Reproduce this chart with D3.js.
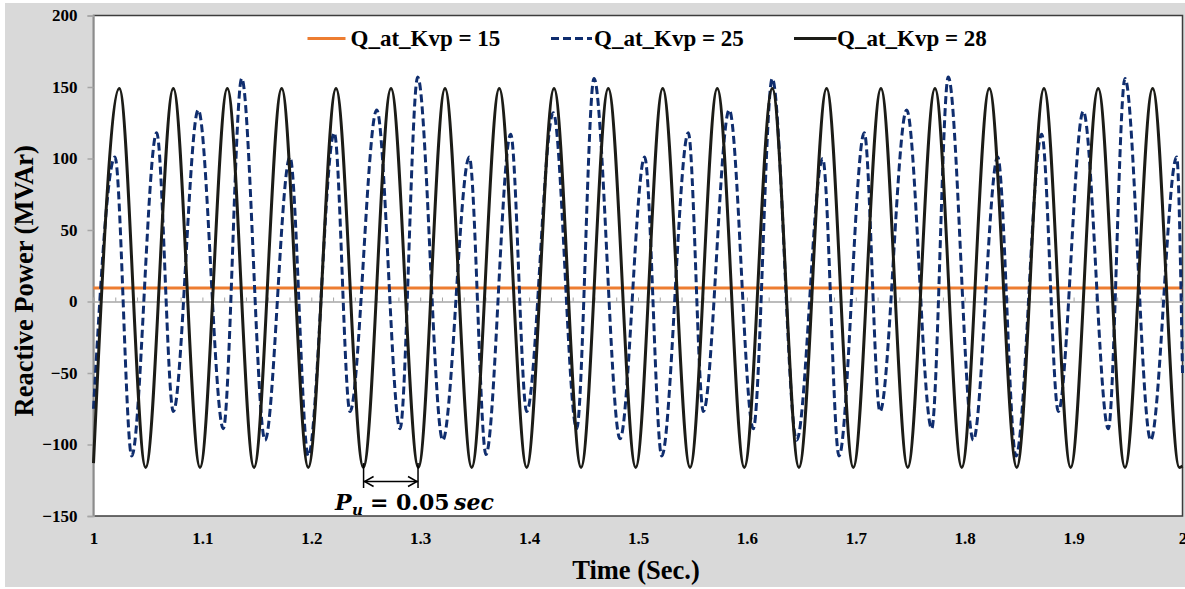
<!DOCTYPE html>
<html>
<head>
<meta charset="utf-8">
<script src="https://cdn.jsdelivr.net/npm/d3@7"></script>
<style>
  html, body { margin: 0; padding: 0; background: #ffffff; }
  svg { display: block; }
  .serif { font-family: "Liberation Serif", "Times New Roman", serif; font-weight: bold; fill: #000; }
  .math { font-family: "DejaVu Serif", "Liberation Serif", serif; font-weight: bold; fill: #000; }
</style>
</head>
<body>
<svg id="chart" width="1185" height="589"></svg>
<script>
// ---- Axis ticks -------------------------------------------------------
const timeTicks = [1, 1.1, 1.2, 1.3, 1.4, 1.5, 1.6, 1.7, 1.8, 1.9, 2];
const timeTickLabels = ["1", "1.1", "1.2", "1.3", "1.4", "1.5", "1.6", "1.7", "1.8", "1.9", "2"];
const qTicks = [-150, -100, -50, 0, 50, 100, 150, 200];

// ---- Series names -----------------------------------------------------
const seriesNames = ["Q_at_Kvp = 15", "Q_at_Kvp = 25", "Q_at_Kvp = 28"];

// ---- Q at Kvp = 15 : flat response (MVAr) -----------------------------
const kvp15Time = [1.0, 2.0];
const kvp15Q    = [9.5, 9.5];

// ---- Q at Kvp = 25 : beating oscillation, turning points (s, MVAr) -----
const kvp25Time = [
  1.0000, 1.0197, 1.0351, 1.0580, 1.0733, 1.0962, 1.1192, 1.1361, 1.1575, 1.1804,
  1.1972, 1.2211, 1.2355, 1.2601, 1.2815, 1.2977, 1.3207, 1.3451, 1.3604, 1.3831,
  1.3978, 1.4222, 1.4437, 1.4596, 1.4835, 1.5061, 1.5218, 1.5462, 1.5600, 1.5838,
  1.6059, 1.6233, 1.6457, 1.6696, 1.6846, 1.7078, 1.7222, 1.7467, 1.7697, 1.7849,
  1.8079, 1.8303, 1.8471, 1.8707, 1.8860, 1.9089, 1.9319, 1.9472, 1.9708, 1.9947,
  2.0000
];
const kvp25Q = [
   -75,  101, -108,  118,  -77,  134,  -89,  156,  -97,  101,
  -108,  118,  -77,  134,  -89,  157,  -97,  101, -107,  117,
   -77,  132,  -89,  156,  -96,  101, -108,  118,  -77,  134,
   -89,  156,  -97,  100, -108,  118,  -77,  134,  -89,  157,
   -97,  101, -108,  117,  -77,  133,  -89,  156,  -97,  101,
   -50
];

// ---- Q at Kvp = 28 : sustained oscillation, turning points (s, MVAr) ---
const kvp28Time = [
  1.0000, 1.0237, 1.0479, 1.0733, 1.0978, 1.1229, 1.1474, 1.1728, 1.1972, 1.2227,
  1.2478, 1.2732, 1.2983, 1.3228, 1.3473, 1.3726, 1.3978, 1.4229, 1.4477, 1.4727,
  1.4979, 1.5227, 1.5478, 1.5728, 1.5976, 1.6233, 1.6478, 1.6732, 1.6977, 1.7231,
  1.7477, 1.7727, 1.7973, 1.8226, 1.8478, 1.8728, 1.8973, 1.9226, 1.9472, 1.9726,
  1.9971, 2.0000
];
const kvp28Q = [
  -113,  149, -116,  149, -116,  149, -116,  149, -116,  149,
  -116,  149, -116,  149, -116,  149, -116,  149, -116,  149,
  -116,  149, -116,  149, -116,  149, -116,  149, -116,  149,
  -116,  149, -116,  149, -116,  149, -116,  149, -116,  149,
  -116, -115
];

// ---- Oscillation period annotation -------------------------------------
const periodStart = 1.248;   // s, trough used as reference
const periodValue = 0.05;    // s

// ---- Layout -----------------------------------------------------------
const svg = d3.select("#chart");
const plot = { left: 93.5, right: 1182.5, top: 15.5, bottom: 516 };

const x = d3.scaleLinear().domain([1, 2]).range([plot.left, plot.right]);
const y = d3.scaleLinear().domain([-150, 200]).range([plot.bottom, plot.top]);

// chart area background
svg.append("rect")
  .attr("x", 5).attr("y", 3).attr("width", 1180).attr("height", 584)
  .attr("fill", "#d9d9d9");

// plot area
svg.append("rect")
  .attr("x", plot.left).attr("y", plot.top)
  .attr("width", plot.right - plot.left).attr("height", plot.bottom - plot.top)
  .attr("fill", "#ffffff")
  .attr("stroke", "#3c3c3c").attr("stroke-width", 1.5);

// y axis
const yAxis = d3.axisLeft(y).tickValues(qTicks).tickSize(6).tickPadding(10).tickFormat(d3.format("d"));
const gy = svg.append("g").attr("transform", `translate(${plot.left},0)`).call(yAxis);
gy.select(".domain").attr("stroke", "#a6a6a6").attr("stroke-width", 1.5);
gy.selectAll(".tick line").attr("stroke", "#a6a6a6").attr("stroke-width", 1.5);
gy.selectAll(".tick text")
  .attr("class", "serif")
  .style("font-size", "17px");

// horizontal axis at Q = 0 with small tick marks
const zeroAxis = d3.axisTop(x).ticks(50).tickSize(4).tickFormat("");
const gz = svg.append("g").attr("transform", `translate(0,${y(0)})`).call(zeroAxis);
gz.select(".domain").attr("stroke", "#a6a6a6").attr("stroke-width", 1.5);
gz.selectAll(".tick line").attr("stroke", "#a6a6a6").attr("stroke-width", 1);

// time labels along the bottom
const xAxis = d3.axisBottom(x).tickValues(timeTicks).tickSize(0).tickPadding(16)
  .tickFormat((d, i) => timeTickLabels[i]);
const gx = svg.append("g").attr("transform", `translate(0,${plot.bottom})`).call(xAxis);
gx.select(".domain").remove();
gx.selectAll(".tick text")
  .attr("class", "serif")
  .style("font-size", "17px");

// axis titles
svg.append("text")
  .attr("class", "serif")
  .attr("transform", `translate(33,${(plot.top + plot.bottom) / 2 + 15}) rotate(-90)`)
  .attr("text-anchor", "middle")
  .style("font-size", "26.5px")
  .text("Reactive Power (MVAr)");

svg.append("text")
  .attr("class", "serif")
  .attr("x", (plot.left + plot.right) / 2 - 2)
  .attr("y", 579)
  .attr("text-anchor", "middle")
  .style("font-size", "26.5px")
  .text("Time (Sec.)");

// ---- Series -----------------------------------------------------------
const toPoints = (ts, qs) => ts.map((t, i) => [t, qs[i]]);
const line = d3.line()
  .x(d => x(d[0]))
  .y(d => y(d[1]))
  .curve(d3.curveMonotoneX);

const series = [
  { name: seriesNames[0], pts: toPoints(kvp15Time, kvp15Q), color: "#ed7d31", dash: null },
  { name: seriesNames[1], pts: toPoints(kvp25Time, kvp25Q), color: "#0f2d6e", dash: "8,4" },
  { name: seriesNames[2], pts: toPoints(kvp28Time, kvp28Q), color: "#1c1c17", dash: null }
];

const gSeries = svg.append("g");
series.forEach(s => {
  gSeries.append("path")
    .datum(s.pts)
    .attr("fill", "none")
    .attr("stroke", s.color)
    .attr("stroke-width", 3)
    .attr("stroke-linejoin", "round")
    .attr("stroke-dasharray", s.dash)
    .attr("d", line);
});

// ---- Legend -------------------------------------------------------------
const legendItems = [
  { x0: 307.5, x1: 345.5, tx: 350.5 },
  { x0: 551,   x1: 592,   tx: 594 },
  { x0: 794,   x1: 836.5, tx: 837 }
];
const gLegend = svg.append("g");
series.forEach((s, i) => {
  const li = legendItems[i];
  gLegend.append("line")
    .attr("x1", li.x0).attr("x2", li.x1)
    .attr("y1", 38.5).attr("y2", 38.5)
    .attr("stroke", s.color).attr("stroke-width", 3)
    .attr("stroke-dasharray", s.dash);
  gLegend.append("text")
    .attr("class", "serif")
    .attr("x", li.tx).attr("y", 46)
    .style("font-size", "23px")
    .text(s.name);
});

// ---- Period annotation ------------------------------------------------
const ax1 = x(periodStart), ax2 = x(periodStart + periodValue);
const ay = 481.5;
const gAnn = svg.append("g").attr("stroke", "#000").attr("stroke-width", 1.5).attr("fill", "none");
[ax1, ax2].forEach(px => {
  gAnn.append("line").attr("x1", px).attr("x2", px).attr("y1", y(-113)).attr("y2", 488);
});
gAnn.append("line").attr("x1", ax1).attr("x2", ax2).attr("y1", ay).attr("y2", ay);
gAnn.append("path").attr("d", `M${ax1 + 10},${ay - 5}L${ax1 + 1},${ay}L${ax1 + 10},${ay + 5}`);
gAnn.append("path").attr("d", `M${ax2 - 10},${ay - 5}L${ax2 - 1},${ay}L${ax2 - 10},${ay + 5}`);

const annBase = 510;
svg.append("text").attr("class", "math").attr("x", 335).attr("y", annBase)
  .style("font-size", "22px").style("font-style", "italic").text("P");
svg.append("text").attr("class", "math").attr("x", 352).attr("y", annBase + 5)
  .style("font-size", "15px").style("font-style", "italic").text("u");
svg.append("text").attr("class", "math").attr("x", 370).attr("y", annBase)
  .style("font-size", "22px").text("=");
svg.append("text").attr("class", "math").attr("x", 396).attr("y", annBase)
  .style("font-size", "22px").text(d3.format(".2f")(periodValue));
svg.append("text").attr("class", "math").attr("x", 454).attr("y", annBase)
  .style("font-size", "22px").style("font-style", "italic").text("sec");
</script>
</body>
</html>
